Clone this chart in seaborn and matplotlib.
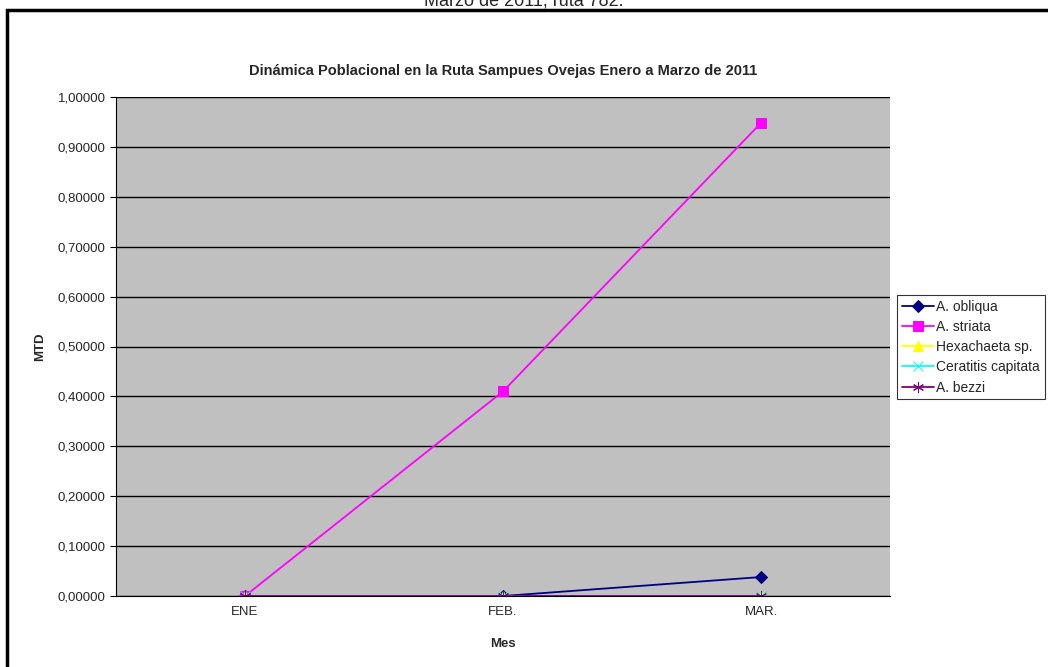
import seaborn as sns
import matplotlib.pyplot as plt
import pandas as pd
from matplotlib.patches import Rectangle
from matplotlib.ticker import FuncFormatter

sns.set_style("white")
plt.rcParams['font.family'] = ['Liberation Sans', 'DejaVu Sans']

meses = ['ENE', 'FEB.', 'MAR.']
especies = ['A. obliqua', 'A. striata', 'Hexachaeta sp.', 'Ceratitis capitata', 'A. bezzi']
a_obliqua = [0.0, 0.0, 0.038]
a_striata = [0.0, 0.41, 0.948]
hexachaeta = [0.0, 0.0, 0.0]
ceratitis = [0.0, 0.0, 0.0]
a_bezzi = [0.0, 0.0, 0.0]

valores = [a_obliqua, a_striata, hexachaeta, ceratitis, a_bezzi]
colores = ['#000080', '#FF00FF', '#FFFF00', '#00FFFF', '#800080']
marcadores = ['D', 's', '^', 'x', (6, 2, 0)]
tamanos = [6, 7, 7, 7, 8]

df = pd.DataFrame({
    'Mes': list(range(len(meses))) * len(especies),
    'MTD': sum(valores, []),
    'Especie': [e for e in especies for _ in meses],
})

fig = plt.figure(figsize=(10.48, 6.67), dpi=100)
ax = fig.add_axes([116 / 1048, 1 - 596 / 667, 774 / 1048, 499 / 667])
ax.set_facecolor('#C0C0C0')

for esp, col, mk, ms in zip(especies, colores, marcadores, tamanos):
    sub = df[df['Especie'] == esp]
    sns.lineplot(data=sub, x='Mes', y='MTD', ax=ax, color=col, marker=mk,
                 markersize=ms, markeredgecolor=col, linewidth=1.3, label=esp)

ax.set_xlim(-0.5, len(meses) - 0.5)
ax.set_ylim(0, 1.0)
ax.set_xticks(range(len(meses)))
ax.set_xticklabels(meses)
ax.set_yticks([i / 10 for i in range(11)])
ax.yaxis.set_major_formatter(FuncFormatter(lambda v, p: f"{v:.5f}".replace('.', ',')))
ax.grid(axis='y', color='black', linewidth=1)
ax.set_axisbelow(True)
ax.tick_params(axis='both', labelsize=9.5, length=4, direction='out', color='black')
ax.tick_params(axis='y', left=True)
ax.tick_params(axis='x', bottom=False)
for s in ['top', 'right']:
    ax.spines[s].set_visible(False)
ax.spines['left'].set_color('black')
ax.spines['bottom'].set_color('black')

ax.set_xlabel('Mes', fontsize=9.5, fontweight='bold', labelpad=14)
ax.set_ylabel('MTD', fontsize=9.5, fontweight='bold', labelpad=8)
ax.set_title('Dinámica Poblacional en la Ruta Sampues Ovejas Enero a Marzo de 2011',
             fontsize=10.5, fontweight='bold', pad=16)

leg = ax.legend(loc='center left', bbox_to_anchor=(897 / 1048, 1 - 347 / 667),
                bbox_transform=fig.transFigure, frameon=True, fontsize=10,
                borderpad=0.35, labelspacing=0.45, handlelength=2.3, handletextpad=0.15,
                fancybox=False, borderaxespad=0)
leg.get_frame().set_edgecolor('black')
leg.get_frame().set_linewidth(0.8)

# marco del grafico y texto superior recortado
fig.patches.append(Rectangle((7 / 1048, -0.1), 1.2, 1 - 10 / 667 + 0.1,
                             transform=fig.transFigure, fill=False,
                             edgecolor='black', linewidth=2.5))
fig.text(0.5, 1 - 6 / 667, 'Marzo de 2011, ruta 782.', ha='center', va='baseline', fontsize=13)

fig.savefig('out.png', dpi=100)
